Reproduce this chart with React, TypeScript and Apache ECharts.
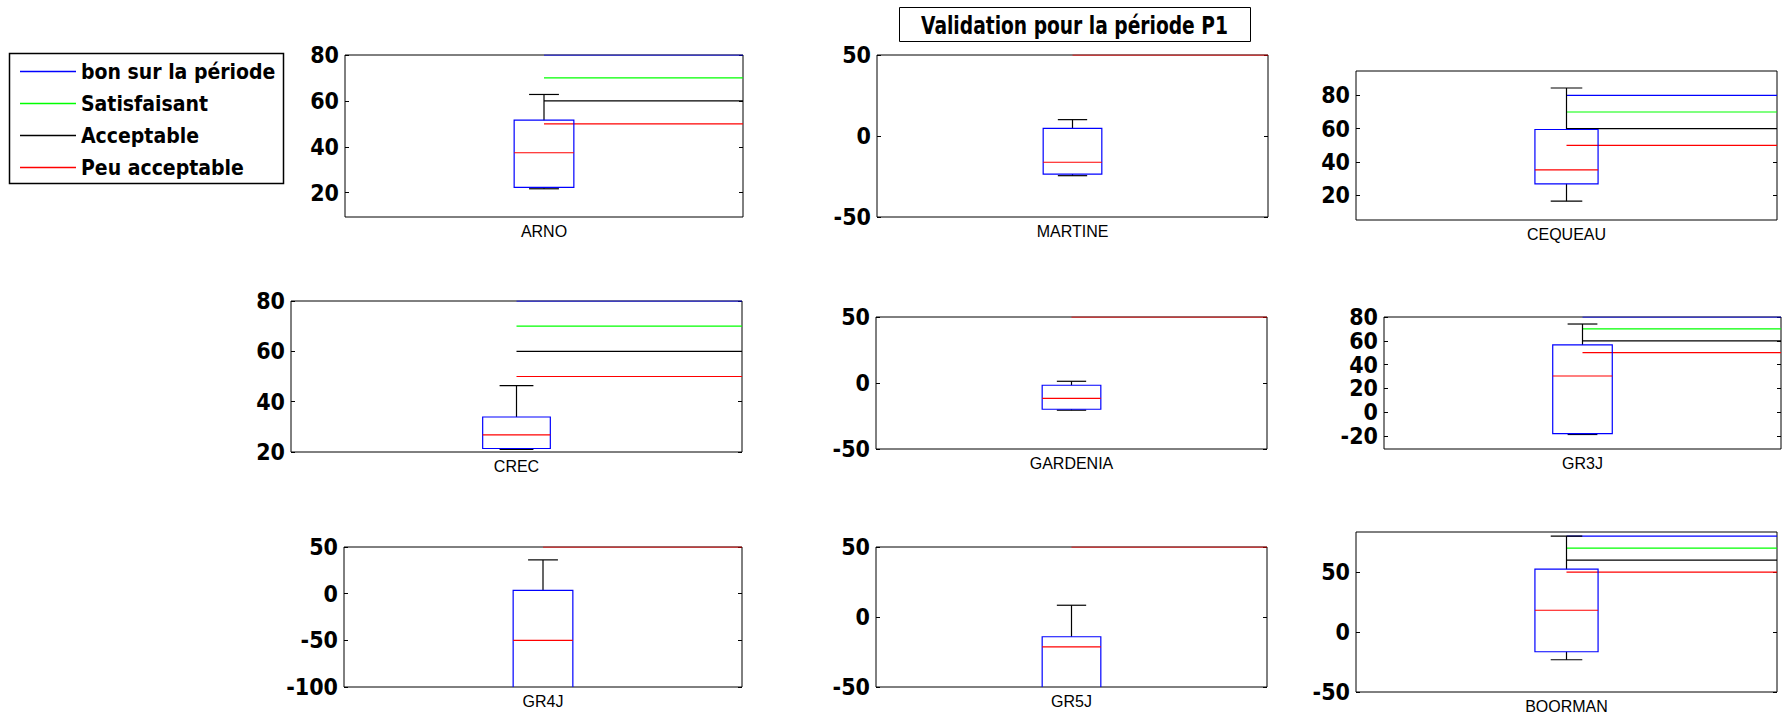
import React, { useEffect, useRef } from 'react';
import * as echarts from 'echarts';

// ---------- data ----------
const categories = ['ARNO', 'MARTINE', 'CEQUEAU', 'CREC', 'GARDENIA', 'GR3J', 'GR4J', 'GR5J', 'BOORMAN'];
const lowerWhisker = [21.7, -24.5, 16.5, 21.0, -20.6, -18.8, -150, -75, -23.1];
const lowerQuartile = [22.3, -23.5, 26.9, 21.4, -19.9, -18.0, -120, -60, -16.4];
const medianValues = [37.4, -16.2, 35.3, 26.8, -11.6, 30.4, -50, -21.4, 18.2];
const upperQuartile = [51.6, 4.7, 59.5, 33.9, -1.7, 56.5, 3.5, -14.1, 52.5];
const upperWhisker = [62.8, 10.1, 84.4, 46.4, 1.3, 74.1, 36.2, 8.4, 80];

const yMin = [9.4, -50, 5.2, 20, -50, -31, -100, -50, -50];
const yMax = [80, 50, 94.6, 80, 50, 80, 50, 50, 83.5];
const yTicks = [
  [20, 40, 60, 80],
  [-50, 0, 50],
  [20, 40, 60, 80],
  [20, 40, 60, 80],
  [-50, 0, 50],
  [-20, 0, 20, 40, 60, 80],
  [-100, -50, 0, 50],
  [-50, 0, 50],
  [-50, 0, 50],
];

const thresholdNames = ['bon sur la période', 'Satisfaisant', 'Acceptable', 'Peu acceptable'];
const thresholdLevels = [80, 70, 60, 50];
const thresholdColors = ['#0000ff', '#00ff00', '#000000', '#ff0000'];

const titleText = 'Validation pour la période P1';

// ---------- layout / style ----------
const panelRects = [
  [345, 55, 398, 162],
  [877, 55, 391, 162],
  [1356, 71, 421, 149],
  [291, 301, 451, 151],
  [876, 317, 391, 132],
  [1384, 317, 397, 132],
  [344, 547, 398, 140],
  [876, 547, 391, 140],
  [1356, 532, 421, 160],
];
const BOX_X = 1;
const X_MIN = 0.5;
const X_MAX = 1.5;
const BOX_HALF = 0.075;
const CAP_HALF = 0.0375;

const FONT_BOLD = "'DejaVu Sans Condensed', 'DejaVu Sans', sans-serif";
const FONT_LABEL = "'Liberation Sans', Arial, sans-serif";

function buildOption() {
  const grid: any[] = [];
  const xAxis: any[] = [];
  const yAxis: any[] = [];
  const series: any[] = [];

  categories.forEach((name, i) => {
    const [left, top, width, height] = panelRects[i];
    grid.push({
      left, top, width, height,
      show: true,
      borderColor: '#000',
      borderWidth: 1,
      backgroundColor: 'transparent',
      containLabel: false,
      outerBoundsMode: 'none',
    });
    xAxis.push({
      type: 'value',
      gridIndex: i,
      min: X_MIN,
      max: X_MAX,
      name,
      nameLocation: 'middle',
      nameGap: 6,
      nameTextStyle: { fontFamily: FONT_LABEL, fontSize: 16, color: '#000' },
      axisLine: { show: false },
      axisTick: { show: false },
      axisLabel: { show: false },
      splitLine: { show: false },
    });
    const common = {
      type: 'value',
      gridIndex: i,
      min: yMin[i],
      max: yMax[i],
      splitLine: { show: false },
      axisLine: { show: false },
      axisTick: { show: true, inside: true, length: 4, lineStyle: { color: '#000' }, customValues: yTicks[i] },
    };
    yAxis.push({
      ...common,
      position: 'left',
      axisLabel: {
        show: true,
        customValues: yTicks[i],
        margin: 6,
        fontFamily: FONT_BOLD,
        fontWeight: 'bold',
        fontSize: 23,
        color: '#000',
      },
    });
    yAxis.push({
      ...common,
      position: 'right',
      axisLabel: { show: false },
    });

    thresholdLevels.forEach((lvl, k) => {
      series.push({
        type: 'line',
        name: thresholdNames[k],
        xAxisIndex: i,
        yAxisIndex: 2 * i,
        data: [[BOX_X, lvl], [X_MAX, lvl]],
        symbol: 'none',
        color: thresholdColors[k],
        lineStyle: { color: thresholdColors[k], width: 1.2 },
        clip: true,
        silent: true,
        z: 3,
      });
    });

    series.push({
      type: 'custom',
      xAxisIndex: i,
      yAxisIndex: 2 * i,
      clip: true,
      z: 4,
      encode: { x: 0, y: [1, 2, 3, 4, 5] },
      data: [[BOX_X, lowerWhisker[i], lowerQuartile[i], medianValues[i], upperQuartile[i], upperWhisker[i]]],
      renderItem: (params: any, api: any) => {
        const x = api.value(0);
        const lo = api.value(1);
        const q1 = api.value(2);
        const med = api.value(3);
        const q3 = api.value(4);
        const hi = api.value(5);
        const tl = api.coord([x - BOX_HALF, q3]);
        const br = api.coord([x + BOX_HALF, q1]);
        const pQ3 = api.coord([x, q3]);
        const pHi = api.coord([x, hi]);
        const pQ1 = api.coord([x, q1]);
        const pLo = api.coord([x, lo]);
        const capHiL = api.coord([x - CAP_HALF, hi]);
        const capHiR = api.coord([x + CAP_HALF, hi]);
        const capLoL = api.coord([x - CAP_HALF, lo]);
        const capLoR = api.coord([x + CAP_HALF, lo]);
        const medL = api.coord([x - BOX_HALF, med]);
        const medR = api.coord([x + BOX_HALF, med]);
        const black = { stroke: '#000', lineWidth: 1.2, fill: null };
        return {
          type: 'group',
          children: [
            { type: 'line', shape: { x1: pQ3[0], y1: pQ3[1], x2: pHi[0], y2: pHi[1] }, style: black },
            { type: 'line', shape: { x1: capHiL[0], y1: capHiL[1], x2: capHiR[0], y2: capHiR[1] }, style: black },
            { type: 'line', shape: { x1: pQ1[0], y1: pQ1[1], x2: pLo[0], y2: pLo[1] }, style: black },
            { type: 'line', shape: { x1: capLoL[0], y1: capLoL[1], x2: capLoR[0], y2: capLoR[1] }, style: black },
            {
              type: 'rect',
              shape: { x: tl[0], y: tl[1], width: br[0] - tl[0], height: br[1] - tl[1] },
              style: { stroke: '#0000ff', lineWidth: 1.2, fill: 'none' },
            },
            { type: 'line', shape: { x1: medL[0], y1: medL[1], x2: medR[0], y2: medR[1] }, style: { stroke: '#ff0000', lineWidth: 1.2 } },
          ],
        };
      },
    });
  });

  return {
    animation: false,
    backgroundColor: '#fff',
    grid,
    xAxis,
    yAxis,
    series,
    legend: {
      data: thresholdNames,
      orient: 'vertical',
      left: 20,
      top: 61,
      icon: 'rect',
      itemWidth: 56,
      itemHeight: 1.5,
      itemGap: 11,
      selectedMode: false,
      padding: 0,
      textStyle: { fontFamily: FONT_BOLD, fontWeight: 'bold', fontSize: 21, lineHeight: 21, color: '#000' },
    },
    graphic: [
      {
        type: 'rect',
        z: 0,
        shape: { x: 9.5, y: 53.5, width: 274, height: 130 },
        style: { stroke: '#000', lineWidth: 1.5, fill: 'transparent' },
      },
      {
        type: 'rect',
        z: 0,
        shape: { x: 899.5, y: 7.5, width: 351, height: 34 },
        style: { stroke: '#000', lineWidth: 1, fill: '#fff' },
      },
      {
        type: 'group',
        x: 1074.5,
        y: 25,
        scaleX: 0.83,
        children: [
          {
            type: 'text',
            style: {
              text: titleText,
              x: 0,
              y: 0,
              align: 'center',
              verticalAlign: 'middle',
              fontFamily: FONT_BOLD,
              fontWeight: 'bold',
              fontSize: 25,
              fill: '#000',
            },
          },
        ],
      },
    ],
  };
}

export default function App() {
  const ref = useRef<HTMLDivElement>(null);
  useEffect(() => {
    if (!ref.current) return;
    const chart = echarts.init(ref.current, null, { renderer: 'svg' });
    chart.setOption(buildOption() as any);
    return () => chart.dispose();
  }, []);
  return (
    <div
      ref={ref}
      style={{ position: 'fixed', left: 0, top: 0, width: 1786, height: 723, background: '#fff' }}
    />
  );
}
